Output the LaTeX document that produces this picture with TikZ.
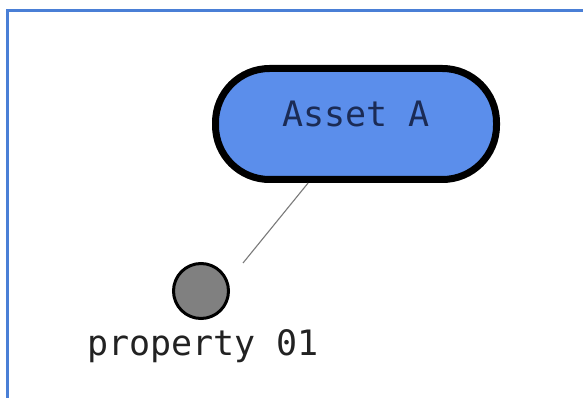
\documentclass[tikz,border=0pt]{standalone}
\usepackage{fontspec}
\setmonofont{DejaVu Sans Mono}
\definecolor{frameblue}{HTML}{4A7FD6}
\definecolor{assetfill}{HTML}{5B8EEB}
\definecolor{assettext}{HTML}{1B2B55}
\definecolor{propfill}{HTML}{808080}
\definecolor{linkgray}{HTML}{7A7A7A}
\definecolor{labeltext}{HTML}{222222}
\begin{document}
\begin{tikzpicture}[x=1pt,y=-1pt,
  assetnode/.style={draw=black, line width=7pt, fill=assetfill,
    rounded corners=54pt, minimum width=281pt, minimum height=111pt,
    inner sep=0pt, text=assettext, font=\ttfamily\fontsize{35}{40}\selectfont,
    text height=25pt, text depth=19pt},
  propnode/.style={circle, draw=black, line width=3pt, fill=propfill,
    minimum size=55pt, inner sep=0pt},
  proplabel/.style={inner sep=0pt, text=labeltext,
    font=\ttfamily\fontsize{35}{40}\selectfont},
  linkline/.style={draw=linkgray, line width=1.1pt}
]
\useasboundingbox (0,0) rectangle (583,398);
\fill[white] (0,0) rectangle (583,398);
\coordinate (fbl) at (7.5,398);
\coordinate (ftl) at (7.5,10.5);
\coordinate (ftr) at (583,10.5);
\draw[frameblue, line width=2.2pt] (fbl) -- (ftl) -- (ftr);

\node[assetnode] (asset) at (356,124) {Asset A};
\node[propnode] (prop) at (201,291) {};
\node[proplabel, anchor=base] (proplab) at (203,355) {property 01};
\coordinate (linkend) at (243,263);
\draw[linkline] (asset) -- (linkend);
\end{tikzpicture}
\end{document}
